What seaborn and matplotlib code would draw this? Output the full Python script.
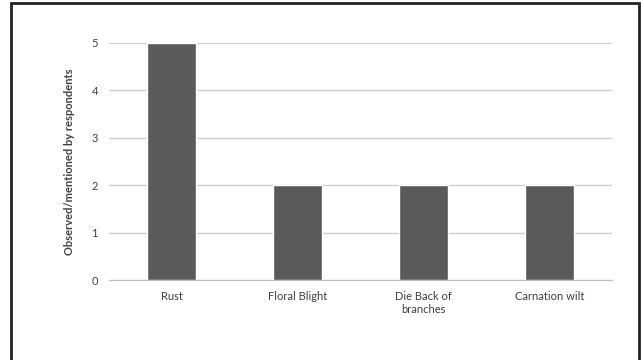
import matplotlib
matplotlib.use('Agg')
import matplotlib.pyplot as plt
import seaborn as sns
import pandas as pd
from matplotlib.patches import Rectangle

diseases = ['Rust', 'Floral Blight', 'Die Back of\nbranches', 'Carnation wilt']
counts = [5, 2, 2, 2]
y_ticks = [0, 1, 2, 3, 4, 5]

df = pd.DataFrame({'disease': diseases, 'count': counts})

sns.set_style('white')
plt.rcParams['font.family'] = ['Lato', 'DejaVu Sans']

fig = plt.figure(figsize=(6.41, 3.6), dpi=100)
ax = fig.add_axes([0.170, 0.222, 0.785, 0.659])

sns.barplot(data=df, x='disease', y='count', color='#5a5a5a', width=0.39,
            saturation=1, ax=ax, zorder=3)

ax.set_ylim(0, 5)
ax.set_yticks(y_ticks)
ax.grid(axis='y', color='#d0d0d0', linewidth=1, zorder=0)
ax.set_axisbelow(True)
for s in ['top', 'right', 'left']:
    ax.spines[s].set_visible(False)
ax.spines['bottom'].set_color('#bdbdbd')
ax.tick_params(axis='both', length=0, labelsize=8, colors='#404040', pad=8)
ax.set_xlabel('')
ax.set_ylabel('Observed/mentioned by respondents', fontsize=8,
              fontweight='bold', color='#404040', labelpad=12)

# outer chart border (bottom edge falls outside the image, like the reference)
fig.patches.append(Rectangle((0.0165, -0.02), 0.980, 1.011, transform=fig.transFigure,
                             fill=False, edgecolor='#222222', linewidth=2))

fig.savefig('out.png', dpi=100)
